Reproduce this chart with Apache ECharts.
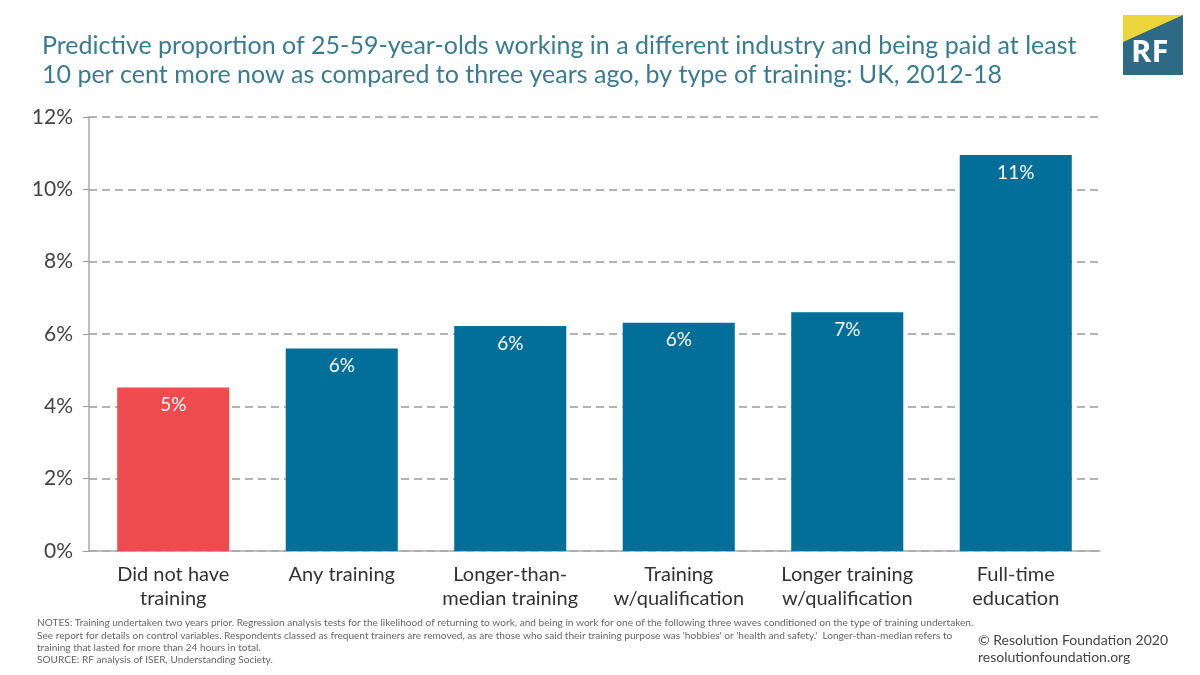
<!DOCTYPE html>
<html>
<head>
<meta charset="utf-8">
<script src="https://cdn.jsdelivr.net/npm/echarts@6/dist/echarts.min.js"></script>
<style>
html,body{margin:0;padding:0;background:#fff;}
#chart{width:1200px;height:675px;}
</style>
</head>
<body>
<div id="chart"></div>
<script>
const categories = ["Did not have\ntraining", "Any training", "Longer-than-\nmedian training", "Training\nw/qualification", "Longer training\nw/qualification", "Full-time\neducation"];
const values = [4.52, 5.60, 6.22, 6.31, 6.60, 10.95];
const valueLabels = ["5%", "6%", "6%", "6%", "7%", "11%"];
const barColors = ["#ee4b4e", "#016f99", "#016f99", "#016f99", "#016f99", "#016f99"];
const yTicks = [0, 2, 4, 6, 8, 10, 12];

const FONT = "Lato, 'Open Sans', sans-serif";
const chart = echarts.init(document.getElementById('chart'));
chart.setOption({
  backgroundColor: '#fff',
  animation: false,
  title: {
    text: 'Predictive proportion of 25-59-year-olds working in a different industry and being paid at least\n10 per cent more now as compared to three years ago, by type of training: UK, 2012-18',
    left: 37, top: 26,
    textStyle: {color: '#3a7c8f', fontSize: 25, fontWeight: 'normal', fontFamily: FONT, lineHeight: 29}
  },
  grid: {left: 89, right: 100, top: 117, bottom: 124, containLabel: false},
  xAxis: {
    type: 'category',
    data: categories,
    axisLine: {show: true, lineStyle: {color: '#aaaaaa', width: 1.5}},
    axisTick: {show: false},
    axisLabel: {color: '#333', fontSize: 20, fontFamily: FONT, lineHeight: 24, margin: 12, interval: 0}
  },
  yAxis: {
    type: 'value',
    min: yTicks[0], max: yTicks[yTicks.length - 1], interval: 2,
    axisLine: {show: true, lineStyle: {color: '#aaaaaa', width: 1.5}},
    axisTick: {show: true, length: 6, lineStyle: {color: '#999'}},
    axisLabel: {color: '#444', fontSize: 21, fontFamily: FONT, margin: 16, formatter: '{value}%'},
    splitLine: {show: true, lineStyle: {color: '#9a9a9a', width: 1.5, type: [8, 5]}}
  },
  series: [{
    type: 'bar',
    data: values.map((v, i) => ({value: v, itemStyle: {color: barColors[i]}})),
    barWidth: '66.5%',
    label: {
      show: true, position: 'insideTop', distance: 8,
      color: '#fff', fontSize: 19, fontFamily: FONT,
      formatter: p => valueLabels[p.dataIndex]
    }
  }],
  graphic: [
    {type: 'rect', left: 1123, top: 15, shape: {width: 60, height: 60}, style: {fill: '#2e6a86'}},
    {type: 'polygon', shape: {points: [[1123, 15], [1183, 15], [1123, 42]]}, style: {fill: '#ecd53a'}},
    {type: 'text', left: 1131, top: 38, style: {text: 'RF', fill: '#fff', font: "bold 31px 'Open Sans', sans-serif"}},
    {type: 'text', left: 37, top: 617, style: {
      text: "NOTES: Training undertaken two years prior. Regression analysis tests for the likelihood of returning to work, and being in work for one of the following three waves conditioned on the type of training undertaken.\nSee report for details on control variables. Respondents classed as frequent trainers are removed, as are those who said their training purpose was 'hobbies' or 'health and safety.'  Longer-than-median refers to\ntraining that lasted for more than 24 hours in total.\nSOURCE: RF analysis of ISER, Understanding Society.",
      fill: '#666', font: "10.1px " + FONT, lineHeight: 12.2}},
    {type: 'text', right: 32, top: 632, style: {
      text: '© Resolution Foundation 2020\nresolutionfoundation.org',
      fill: '#444', font: "14px " + FONT, lineHeight: 17, align: 'right'}}
  ]
});
</script>
</body>
</html>
